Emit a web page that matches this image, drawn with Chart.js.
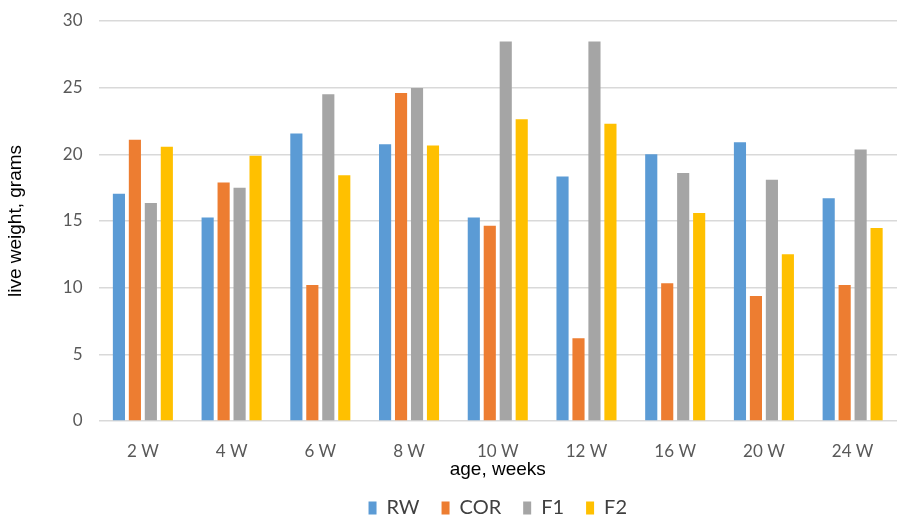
<!DOCTYPE html>
<html>
<head>
<meta charset="utf-8">
<script src="https://cdn.jsdelivr.net/npm/chart.js@4.4.1/dist/chart.umd.min.js"></script>
<style>
  html, body { margin: 0; padding: 0; background: #fff; }
  #wrap { width: 913px; height: 524px; }
</style>
</head>
<body>
<div id="wrap"><canvas id="chart"></canvas></div>
<script>
const ageLabels = ["2 W", "4 W", "6 W", "8 W", "10 W", "12 W", "16 W", "20 W", "24 W"];
const rw  = [17.05, 15.27, 21.56, 20.76, 15.27, 18.33, 20.0, 20.9, 16.7];
const cor = [21.1, 17.88, 10.2, 24.6, 14.65, 6.2, 10.34, 9.37, 10.2];
const f1  = [16.35, 17.5, 24.5, 24.97, 28.47, 28.47, 18.6, 18.1, 20.36];
const f2  = [20.56, 19.9, 18.43, 20.66, 22.64, 22.29, 15.6, 12.5, 14.48];

const tickFont = { family: "Lato, 'Open Sans', sans-serif", size: 17 };
const legendFont = { family: "Lato, 'Open Sans', sans-serif", size: 20 };
const titleFont = { family: "'Liberation Sans', Arial, sans-serif", size: 19 };

const mkSet = (label, data, color) => ({
  label, data,
  backgroundColor: color,
  borderWidth: 0,
  categoryPercentage: 0.72,
  barPercentage: 0.76,
});

// keep the legend strip a fixed height so the plot area lines up
const legendHeight = {
  id: "legendHeight",
  beforeInit(chart) {
    const lg = chart.legend;
    if (!lg) return;
    const fit = lg.fit;
    lg.fit = function () {
      fit.call(this);
      this.height = 48;
    };
  },
};

new Chart(document.getElementById("chart"), {
  type: "bar",
  data: {
    labels: ageLabels,
    datasets: [
      mkSet("RW", rw, "#5B9BD5"),
      mkSet("COR", cor, "#ED7D31"),
      mkSet("F1", f1, "#A5A5A5"),
      mkSet("F2", f2, "#FFC000"),
    ],
  },
  plugins: [legendHeight],
  options: {
    responsive: true,
    maintainAspectRatio: false,
    animation: false,
    layout: { padding: { top: 21, right: 16, left: 4, bottom: 0 } },
    plugins: {
      tooltip: { enabled: false },
      legend: {
        position: "bottom",
        fullSize: false,
        labels: {
          color: "#404040",
          font: legendFont,
          boxWidth: 8,
          boxHeight: 13,
          padding: 22,
        },
      },
    },
    scales: {
      x: {
        grid: { display: false },
        border: { display: false },
        ticks: { color: "#595959", font: tickFont, maxRotation: 0, padding: 12 },
        title: {
          display: true,
          text: "age, weeks",
          color: "#000",
          font: titleFont,
          padding: { top: 0, bottom: -5 },
        },
        afterFit: (s) => { s.height = 55; },
      },
      y: {
        min: 0,
        max: 30,
        ticks: { stepSize: 5, color: "#595959", font: tickFont, padding: 16 },
        grid: { color: "#d9d9d9", lineWidth: 1.5, drawTicks: false },
        border: { display: false },
        title: {
          display: true,
          text: "live weight, grams",
          color: "#000",
          font: titleFont,
          padding: { top: 0, bottom: 20 },
        },
        afterFit: (s) => { s.paddingTop = 0; s.paddingBottom = 0; },
      },
    },
  },
});
</script>
</body>
</html>
